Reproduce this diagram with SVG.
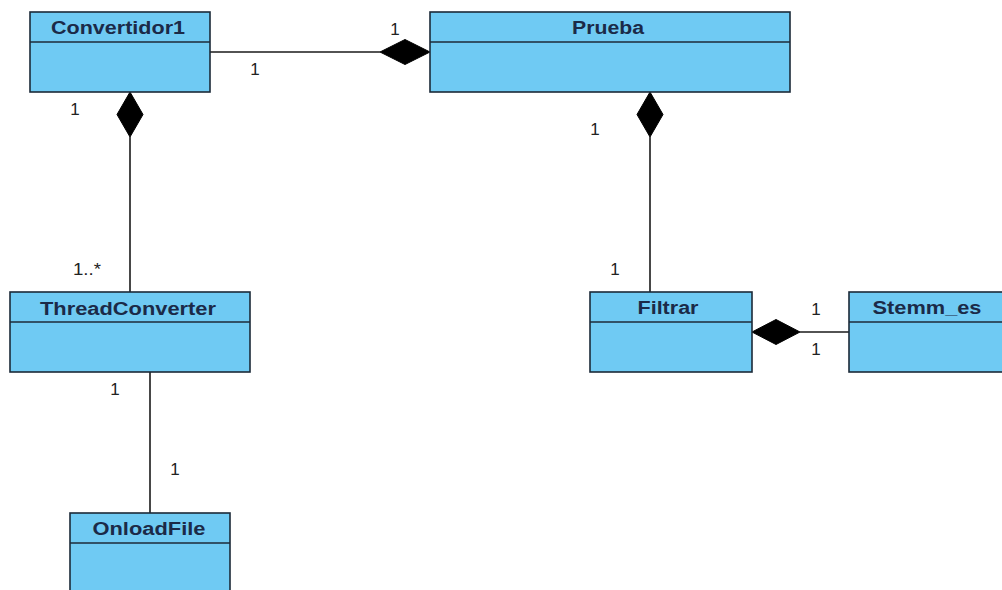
<svg xmlns="http://www.w3.org/2000/svg" width="1002" height="590" viewBox="0 0 1002 590">
<style>
.box{fill:#6fcaf3;stroke:#1c2a38;stroke-width:1.6}
.div{stroke:#1c2a38;stroke-width:1.6}
.name{font-family:"Liberation Sans",Arial,sans-serif;font-weight:bold;font-size:18px;fill:#1b2a48;text-anchor:middle}
.lbl{font-family:"Liberation Sans",Arial,sans-serif;font-size:17px;fill:#222;text-anchor:middle}
.ln{stroke:#1a1a1a;stroke-width:1.6;fill:none}
.dia{fill:#000;stroke:#000;stroke-width:1}
</style>
<rect width="1002" height="590" fill="#ffffff"/>
<g id="connectors">
<line class="ln" x1="210" y1="52" x2="380" y2="52"/>
<polygon class="dia" points="430,52 405,39.5 380,52 405,64.5"/>
<line class="ln" x1="130" y1="137" x2="130" y2="292"/>
<polygon class="dia" points="130,92 143,114.5 130,137 117,114.5"/>
<line class="ln" x1="650" y1="137" x2="650" y2="292"/>
<polygon class="dia" points="650,92 663,114.5 650,137 637,114.5"/>
<line class="ln" x1="150" y1="372" x2="150" y2="513"/>
<line class="ln" x1="800" y1="332" x2="849" y2="332"/>
<polygon class="dia" points="752,332 776,319.5 800,332 776,344.5"/>
<text class="lbl" x="395" y="35">1</text>
<text class="lbl" x="255" y="75">1</text>
<text class="lbl" x="75" y="115">1</text>
<text class="lbl" x="87" y="275" textLength="28" lengthAdjust="spacingAndGlyphs">1..*</text>
<text class="lbl" x="115" y="395">1</text>
<text class="lbl" x="175" y="475">1</text>
<text class="lbl" x="595" y="135">1</text>
<text class="lbl" x="615" y="275">1</text>
<text class="lbl" x="816" y="315">1</text>
<text class="lbl" x="816" y="355">1</text>
</g>
<g id="Convertidor1">
<rect class="box" x="30" y="12" width="180" height="80"/>
<line class="div" x1="30" y1="42" x2="210" y2="42"/>
<text class="name" x="118" y="34" textLength="134" lengthAdjust="spacingAndGlyphs">Convertidor1</text>
</g>
<g id="Prueba">
<rect class="box" x="430" y="12" width="360" height="80"/>
<line class="div" x1="430" y1="42" x2="790" y2="42"/>
<text class="name" x="608" y="34" textLength="72" lengthAdjust="spacingAndGlyphs">Prueba</text>
</g>
<g id="ThreadConverter">
<rect class="box" x="10" y="292" width="240" height="80"/>
<line class="div" x1="10" y1="322" x2="250" y2="322"/>
<text class="name" x="128" y="315" textLength="176" lengthAdjust="spacingAndGlyphs">ThreadConverter</text>
</g>
<g id="OnloadFile">
<rect class="box" x="70" y="513" width="160" height="85"/>
<line class="div" x1="70" y1="543" x2="230" y2="543"/>
<text class="name" x="149" y="535" textLength="113" lengthAdjust="spacingAndGlyphs">OnloadFile</text>
</g>
<g id="Filtrar">
<rect class="box" x="590" y="292" width="162" height="80"/>
<line class="div" x1="590" y1="322" x2="752" y2="322"/>
<text class="name" x="668" y="314" textLength="61" lengthAdjust="spacingAndGlyphs">Filtrar</text>
</g>
<g id="Stemm_es">
<rect class="box" x="849" y="292" width="165" height="80"/>
<line class="div" x1="849" y1="322" x2="1014" y2="322"/>
<text class="name" x="927" y="314" textLength="109" lengthAdjust="spacingAndGlyphs">Stemm_es</text>
</g>
</svg>
